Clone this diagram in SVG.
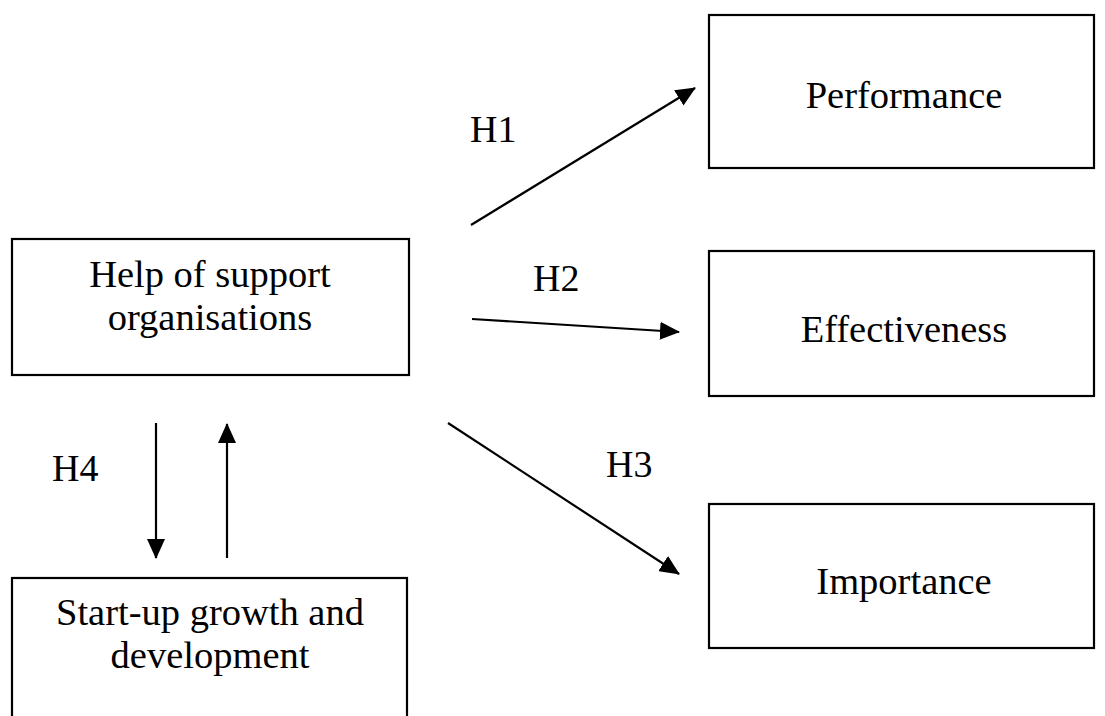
<svg xmlns="http://www.w3.org/2000/svg" width="1105" height="716" viewBox="0 0 1105 716">
<defs>
<style>
.box{fill:#fff;stroke:#000;stroke-width:2.2}
.t{font-family:"Liberation Serif","Times New Roman",serif;font-size:38.5px;fill:#000;text-anchor:middle}
.l{font-family:"Liberation Serif","Times New Roman",serif;font-size:38px;fill:#000}
.c{stroke:#000;stroke-width:2.2;fill:none;marker-end:url(#ah)}
</style>
<marker id="ah" markerUnits="userSpaceOnUse" markerWidth="20" markerHeight="18" viewBox="0 0 20 18" refX="19" refY="9" orient="auto">
<path d="M0,0 L20,9 L0,18 z" fill="#000"/>
</marker>
</defs>
<rect width="1105" height="716" fill="#fff"/>
<g id="help">
<rect class="box" x="12" y="239" width="397" height="136"/>
<text class="t" x="210" y="287">Help of support</text>
<text class="t" x="210" y="330">organisations</text>
</g>
<g id="startup">
<rect class="box" x="12" y="578" width="395" height="160"/>
<text class="t" x="210" y="625">Start-up growth and</text>
<text class="t" x="210" y="668">development</text>
</g>
<g id="performance">
<rect class="box" x="709" y="15" width="385" height="153"/>
<text class="t" x="904" y="108">Performance</text>
</g>
<g id="effectiveness">
<rect class="box" x="709" y="251" width="385" height="145"/>
<text class="t" x="904" y="342">Effectiveness</text>
</g>
<g id="importance">
<rect class="box" x="709" y="504" width="385" height="144"/>
<text class="t" x="904" y="594">Importance</text>
</g>
<g id="connectors">
<line class="c" x1="471" y1="225" x2="695" y2="88"/>
<line class="c" x1="472" y1="319" x2="679" y2="332"/>
<line class="c" x1="448" y1="423" x2="679" y2="574"/>
<line class="c" x1="156" y1="423" x2="156" y2="558"/>
<line class="c" x1="227" y1="558" x2="227" y2="424"/>
</g>
<g id="labels">
<text class="l" x="470" y="142">H1</text>
<text class="l" x="533" y="291">H2</text>
<text class="l" x="606" y="477">H3</text>
<text class="l" x="52" y="481">H4</text>
</g>
</svg>
